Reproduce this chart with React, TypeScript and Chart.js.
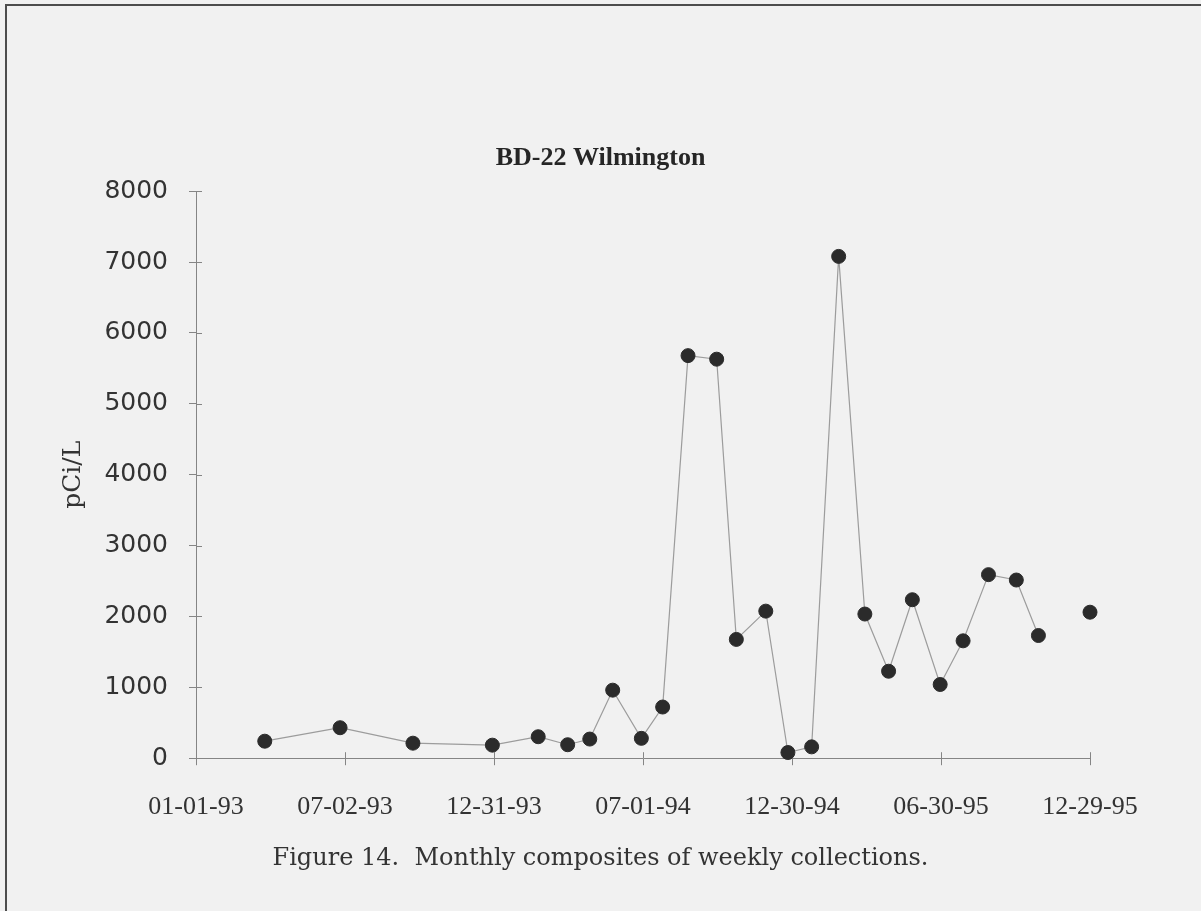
import React, { useEffect, useRef } from "react";
import { Chart, registerables } from "chart.js";

Chart.register(...registerables);

// Sample (composite) dates and measured activity, pCi/L
const sampleDates = [
  "1993-03-26", "1993-06-26", "1993-09-23", "1993-12-29",
  "1994-02-23", "1994-03-31", "1994-04-27", "1994-05-25", "1994-06-29",
  "1994-07-25", "1994-08-25", "1994-09-29", "1994-10-23", "1994-11-28",
  "1994-12-25", "1995-01-23", "1995-02-25", "1995-03-29", "1995-04-27",
  "1995-05-26", "1995-06-29", "1995-07-27", "1995-08-27", "1995-09-30",
  "1995-10-27", "1995-11-27", "1995-12-29",
];
const activity: (number | null)[] = [
  240, 430, 212, 184,
  303, 190, 270, 960, 280,
  722, 5680, 5630, 1676, 2075,
  80, 160, 7080, 2034, 1227,
  2236, 1040, 1656, 2590, 2514,
  1731, null, 2060,
];

const xTickDates = ["1993-01-01", "1993-07-02", "1993-12-31", "1994-07-01", "1994-12-30", "1995-06-30", "1995-12-29"];
const xTickLabels = ["01-01-93", "07-02-93", "12-31-93", "07-01-94", "12-30-94", "06-30-95", "12-29-95"];
const yTickValues = [0, 1000, 2000, 3000, 4000, 5000, 6000, 7000, 8000];

const chartTitle = "BD-22 Wilmington";
const caption = "Figure 14.  Monthly composites of weekly collections.";
const yAxisTitle = "pCi/L";

const ORIGIN = Date.UTC(1993, 0, 1);
const dayOf = (iso: string) => {
  const [y, m, d] = iso.split("-").map(Number);
  return (Date.UTC(y, m - 1, d) - ORIGIN) / 86400000;
};

const AXIS = "#858585";

const innerTicks = {
  id: "innerTicks",
  beforeDatasetsDraw(chart: any) {
    const { ctx, chartArea, scales } = chart;
    ctx.save();
    ctx.strokeStyle = AXIS;
    ctx.lineWidth = 1;
    scales.y.ticks.forEach((t: any) => {
      const y = Math.round(scales.y.getPixelForValue(t.value)) + 0.5;
      ctx.beginPath();
      ctx.moveTo(chartArea.left, y);
      ctx.lineTo(chartArea.left + 6, y);
      ctx.stroke();
    });
    scales.x.ticks.forEach((t: any) => {
      const x = Math.round(scales.x.getPixelForValue(t.value)) + 0.5;
      ctx.beginPath();
      ctx.moveTo(x, chartArea.bottom);
      ctx.lineTo(x, chartArea.bottom - 6);
      ctx.stroke();
    });
    ctx.restore();
  },
};

export default function App() {
  const ref = useRef<HTMLCanvasElement>(null);

  useEffect(() => {
    const points = sampleDates.map((d, i) => ({ x: dayOf(d), y: activity[i] }));
    const chart = new Chart(ref.current as HTMLCanvasElement, {
      type: "line",
      data: {
        datasets: [
          {
            data: points as any,
            borderColor: "#9c9c9c",
            borderWidth: 1.2,
            pointRadius: 7,
            pointBackgroundColor: "#2b2b2b",
            pointBorderColor: "#2b2b2b",
            pointBorderWidth: 1,
            spanGaps: false,
            tension: 0,
            clip: false,
          } as any,
        ],
      },
      options: {
        animation: false,
        responsive: false,
        devicePixelRatio: 1,
        layout: { padding: 0 },
        plugins: {
          legend: { display: false },
          tooltip: { enabled: false },
          title: {
            display: true,
            text: chartTitle,
            color: "#262626",
            font: { family: "Liberation Serif", size: 26, weight: "bold" },
            padding: { top: 143, bottom: 17 },
          },
          subtitle: {
            display: true,
            position: "bottom",
            text: caption,
            color: "#333",
            font: { family: "DejaVu Serif", size: 24, weight: "normal" },
            padding: { top: 0, bottom: 38 },
          },
        },
        scales: {
          x: {
            type: "linear",
            position: "bottom",
            min: dayOf(xTickDates[0]),
            max: dayOf(xTickDates[xTickDates.length - 1]),
            afterBuildTicks: (scale: any) => {
              scale.ticks = xTickDates.map((d) => ({ value: dayOf(d) }));
            },
            afterFit: (scale: any) => {
              scale.height = 86;
            },
            grid: { drawOnChartArea: false, drawTicks: true, tickLength: 7, color: AXIS },
            border: { display: true, color: AXIS, width: 1 },
            ticks: {
              autoSkip: false,
              maxRotation: 0,
              padding: 26,
              color: "#333",
              font: { family: "Liberation Serif", size: 26 },
              callback: (_v: any, i: number) => xTickLabels[i],
            },
          },
          y: {
            type: "linear",
            position: "left",
            min: yTickValues[0],
            max: yTickValues[yTickValues.length - 1],
            afterBuildTicks: (scale: any) => {
              scale.ticks = yTickValues.map((v) => ({ value: v }));
            },
            afterFit: (scale: any) => {
              scale.width = 196;
            },
            grid: { drawOnChartArea: false, drawTicks: true, tickLength: 7, color: AXIS },
            border: { display: true, color: AXIS, width: 1 },
            ticks: {
              padding: 21,
              color: "#333",
              font: { family: "DejaVu Sans", size: 25 },
              callback: (v: any) => String(v),
            },
            title: {
              display: true,
              text: yAxisTitle,
              color: "#333",
              font: { family: "DejaVu Serif", size: 25 },
              padding: { top: 58, bottom: 0 },
            },
          },
          spacer: {
            type: "linear",
            position: "right",
            display: true,
            min: 0,
            max: 1,
            afterFit: (scale: any) => {
              scale.width = 111;
            },
            grid: { display: false, drawTicks: false },
            border: { display: false },
            ticks: { display: false },
          },
        },
      },
      plugins: [innerTicks],
    });
    return () => chart.destroy();
  }, []);

  return (
    <div
      style={{
        position: "fixed",
        left: 0,
        top: 0,
        width: 1201,
        height: 911,
        background: "#f1f1f1",
        overflow: "hidden",
      }}
    >
      <div
        style={{
          position: "absolute",
          left: 5,
          top: 4,
          width: 1400,
          height: 1100,
          borderTop: "2px solid #4d4d4d",
          borderLeft: "2px solid #4d4d4d",
        }}
      />
      <canvas
        ref={ref}
        width={1201}
        height={911}
        style={{ position: "absolute", left: 0, top: 0, width: 1201, height: 911 }}
      />
    </div>
  );
}
